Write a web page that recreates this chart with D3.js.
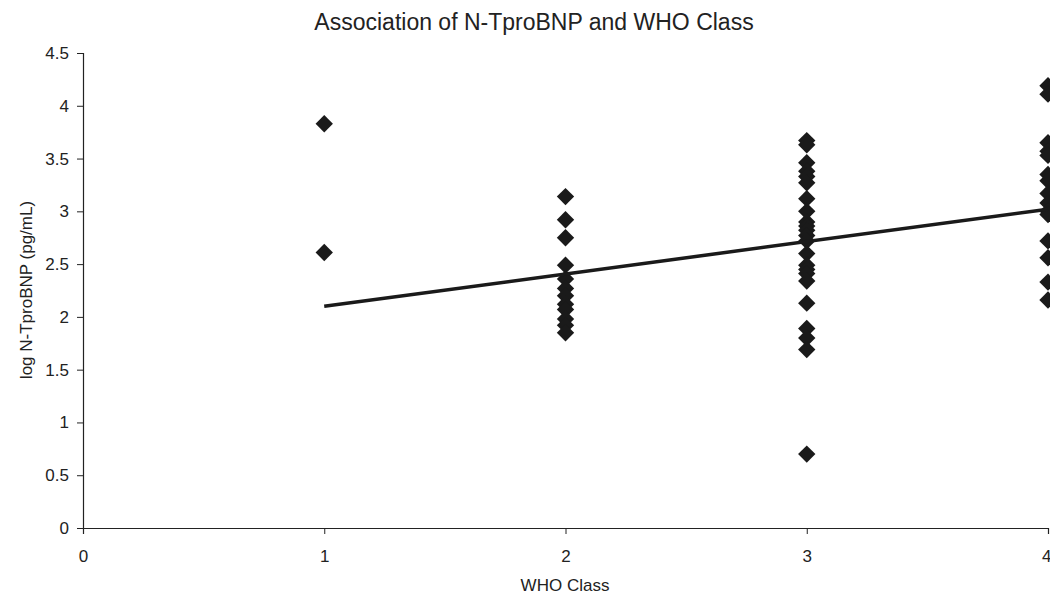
<!DOCTYPE html>
<html>
<head>
<meta charset="utf-8">
<script src="https://cdn.jsdelivr.net/npm/d3@7"></script>
<style>
  body { margin: 0; background: #fff; }
  svg { display: block; font-family: "Liberation Sans", Arial, sans-serif; }
</style>
</head>
<body>
<svg width="1050" height="594"></svg>
<script>
// values
const class1 = [3.83, 2.61];
const class2 = [3.14, 2.92, 2.75, 2.49, 2.36, 2.27, 2.2, 2.12, 2.07, 1.98, 1.92, 1.85];
const class3 = [3.67, 3.63, 3.46, 3.38, 3.33, 3.27, 3.12, 3.0, 2.9, 2.86, 2.82, 2.77, 2.72, 2.6, 2.49, 2.45, 2.41, 2.34, 2.13, 1.89, 1.8, 1.69, 0.7];
const class4 = [4.19, 4.11, 3.65, 3.57, 3.53, 3.35, 3.29, 3.17, 3.08, 3.0, 2.97, 2.72, 2.56, 2.33, 2.16];
const trendX = [1, 4];
const trendY = [2.1, 3.02];
const xTicks = [0, 1, 2, 3, 4];
const yTicks = [0, 0.5, 1, 1.5, 2, 2.5, 3, 3.5, 4, 4.5];

const svg = d3.select("svg");

const x = d3.scaleLinear().domain([0, 4]).range([83, 1048]);
const y = d3.scaleLinear().domain([0, 4.5]).range([528, 53]);

// y axis
const yAxis = svg.append("g")
  .attr("transform", "translate(83,0)")
  .call(d3.axisLeft(y).tickValues(yTicks).tickSize(6).tickPadding(8).tickFormat(d => d));
yAxis.select(".domain").attr("stroke", "#222").attr("stroke-width", 1.2);
yAxis.selectAll(".tick line").attr("stroke", "#222");
yAxis.selectAll("text").attr("font-size", 17).attr("fill", "#222");

// x axis
const xAxis = svg.append("g")
  .attr("transform", "translate(0,528)")
  .call(d3.axisBottom(x).tickValues(xTicks).tickSize(6).tickPadding(16).tickFormat(d => d));
xAxis.select(".domain").attr("stroke", "#222").attr("stroke-width", 1.2);
xAxis.selectAll(".tick line").attr("stroke", "#222");
xAxis.selectAll("text").attr("font-size", 17).attr("fill", "#222");
// the last label sits on the edge, keep it inside the picture
xAxis.selectAll(".tick text").filter(d => d === 4).attr("text-anchor", "end").attr("dx", 3);

// points
const points = [];
[class1, class2, class3, class4].forEach((arr, i) => {
  arr.forEach(v => points.push({ c: i + 1, v: v }));
});

const diamond = d3.symbol().type(d3.symbolSquare).size(150);

svg.append("g").selectAll("path")
  .data(points)
  .enter()
  .append("path")
  .attr("d", diamond)
  .attr("fill", "#1a1a1a")
  .attr("transform", d => `translate(${x(d.c)},${y(d.v)}) rotate(45)`);

// trend line
const line = d3.line().x(d => x(d[0])).y(d => y(d[1]));
svg.append("path")
  .datum(d3.zip(trendX, trendY))
  .attr("d", line)
  .attr("fill", "none")
  .attr("stroke", "#1a1a1a")
  .attr("stroke-width", 3.5);

// titles
svg.append("text")
  .attr("x", 534)
  .attr("y", 30)
  .attr("text-anchor", "middle")
  .attr("font-size", 23)
  .attr("fill", "#222")
  .text("Association of N-TproBNP and WHO Class");

svg.append("text")
  .attr("x", 565)
  .attr("y", 591)
  .attr("text-anchor", "middle")
  .attr("font-size", 17)
  .attr("fill", "#222")
  .text("WHO Class");

svg.append("text")
  .attr("transform", "translate(32,290) rotate(-90)")
  .attr("text-anchor", "middle")
  .attr("font-size", 17)
  .attr("fill", "#222")
  .text("log N-TproBNP (pg/mL)");
</script>
</body>
</html>
